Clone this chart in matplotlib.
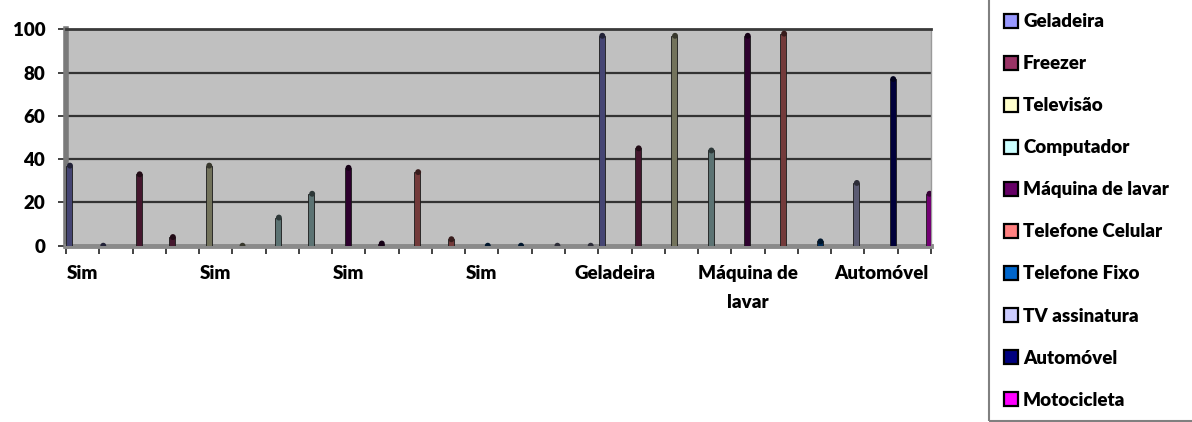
import numpy as np
import matplotlib.pyplot as plt
import matplotlib.colors as mcolors
from matplotlib.lines import Line2D
from matplotlib.patches import Rectangle

plt.rcParams['font.family'] = 'Lato'
WEIGHT = 800

series = ["Geladeira", "Freezer", "Televisão", "Computador", "Máquina de lavar",
          "Telefone Celular", "Telefone Fixo", "TV assinatura", "Automóvel", "Motocicleta"]
series_colors = ["#9999FF", "#993366", "#FFFFCC", "#CCFFFF", "#660066",
                 "#FF8080", "#0066CC", "#CCCCFF", "#000080", "#FF00FF"]

categories = ["Sim", "Não"] * 8 + series
cat_series = [0, 0, 1, 1, 2, 2, 3, 3, 4, 4, 5, 5, 6, 6, 7, 7,
              0, 1, 2, 3, 4, 5, 6, 7, 8, 9]
values = [37, 0, 33, 4, 37, 0, 13, 24, 36, 1, 34, 3, 0, 0, 0, 0,
          97, 45, 97, 44, 97, 98, 2, 29, 77, 24]

FS = 13.5

fig = plt.figure(figsize=(11.92, 4.22), dpi=100)
ax = fig.add_axes([66 / 1192, 1 - 245.7 / 422, (931 - 66) / 1192, (245.7 - 29.3) / 422])
ax.set_facecolor("#C0C0C0")

n = len(categories)
idx = np.arange(n)
ser = np.array(cat_series)
xs = idx + 0.1 + 0.093 * ser
shade = [tuple(0.45 * np.array(mcolors.to_rgb(series_colors[s]))) for s in cat_series]
caps = [tuple(0.22 * np.array(mcolors.to_rgb(series_colors[s]))) for s in cat_series]

ax.bar(xs, values, width=0.18, color=shade, edgecolor="#1a1a1a", linewidth=0.6, zorder=3)
ax.scatter(xs + 0.02, values, s=18, marker="o", c=caps, zorder=4, linewidths=0)

ax.set_xlim(0, n)
ax.set_ylim(0, 100)
ax.set_yticks(np.arange(0, 101, 20))
ax.set_yticklabels([str(v) for v in range(0, 101, 20)], fontsize=FS, fontweight=WEIGHT)
ax.yaxis.grid(True, color="#333333", linewidth=1.6, zorder=1)
ax.set_axisbelow(True)

ax.set_xticks(np.arange(0, n + 1))
ax.set_xticklabels([])
ax.set_xticks(idx[::4] + 0.5, minor=True)
labels = [c if c != "Máquina de lavar" else "Máquina de\nlavar" for c in categories]
ax.set_xticklabels(labels[::4], minor=True, fontsize=FS, fontweight=WEIGHT, va="top",
                   linespacing=1.85)
ax.tick_params(axis="x", which="major", length=6, width=1.2, color="#222222", direction="out")
ax.tick_params(axis="x", which="minor", length=0, pad=14)
ax.tick_params(axis="y", length=6, width=1.2, color="#222222", pad=9)

ax.spines["left"].set_color("#7a7a7a")
ax.spines["left"].set_linewidth(4)
ax.spines["bottom"].set_color("#8a8a8a")
ax.spines["bottom"].set_linewidth(3.5)
ax.spines["top"].set_color("#3a3a3a")
ax.spines["top"].set_linewidth(2)
ax.spines["right"].set_color("#9a9a9a")
ax.spines["right"].set_linewidth(1)

handles = [Line2D([], [], linestyle="none", marker="s", markersize=10,
                  markerfacecolor=c, markeredgecolor="black", markeredgewidth=1.6)
           for c in series_colors]
fig.legend(handles, series, loc="upper left", bbox_to_anchor=(1004 / 1192, 1 - 13.3 / 422),
           frameon=False, prop={"family": "Lato", "weight": WEIGHT, "size": FS},
           handlelength=0.75, handletextpad=0.27, labelspacing=1.335, borderpad=0,
           borderaxespad=0)
fig.patches.append(Rectangle((989 / 1192, 1 / 422), 0.2, 1.1, transform=fig.transFigure,
                             fill=False, edgecolor="#808080", linewidth=1.5))

fig.savefig("out.png", dpi=100)
